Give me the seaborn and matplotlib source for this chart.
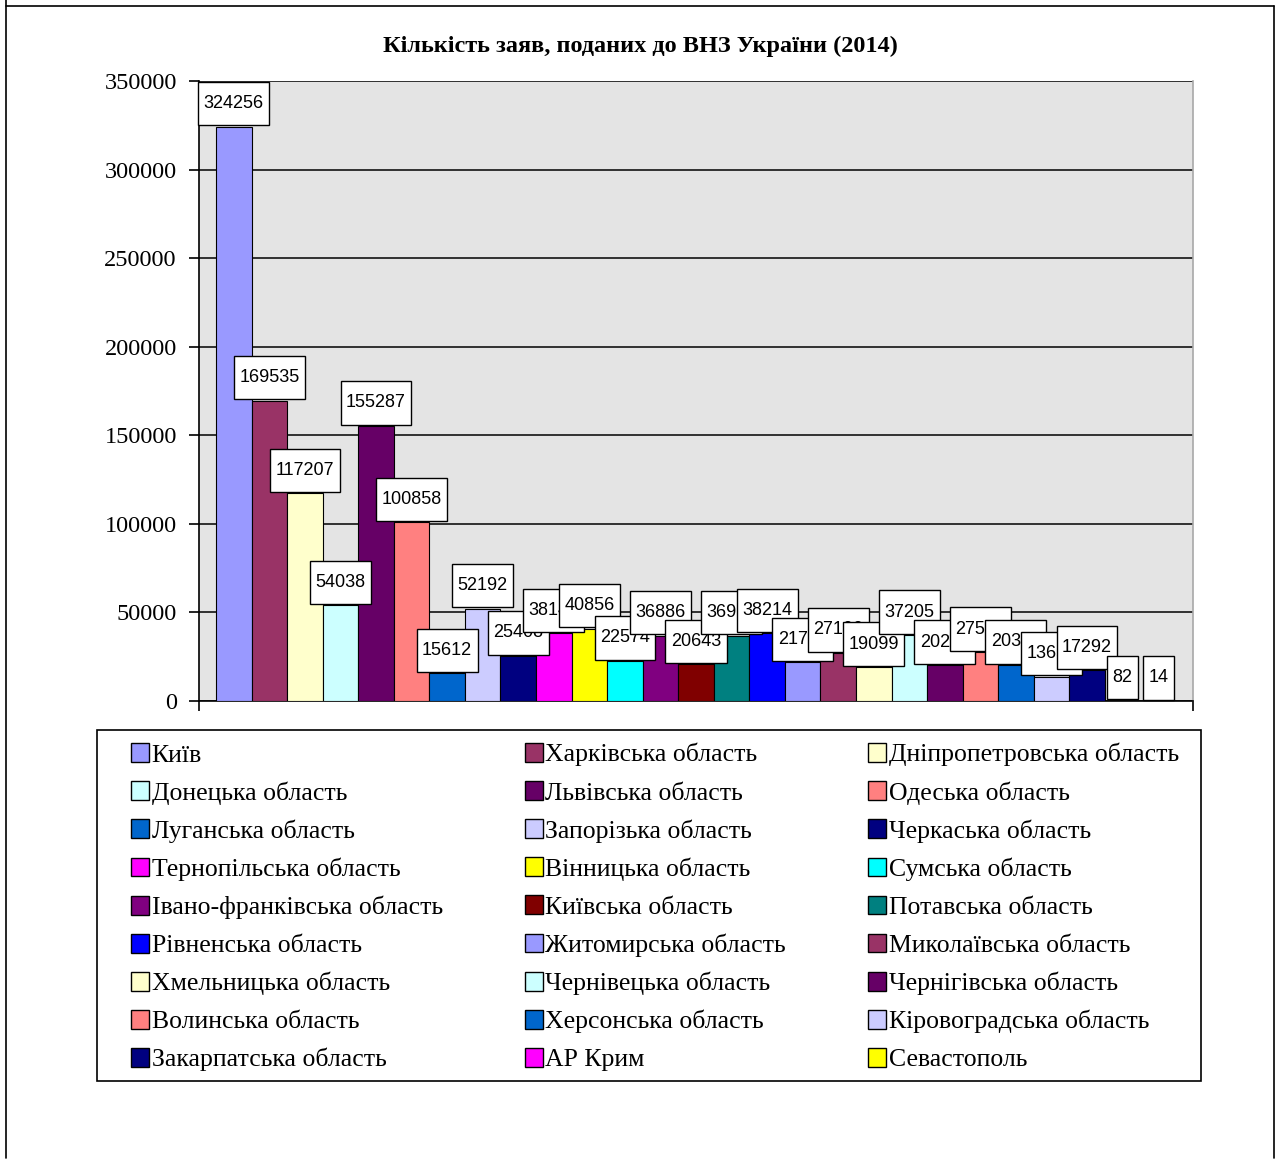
import matplotlib
matplotlib.use("Agg")
import matplotlib.pyplot as plt
from matplotlib.patches import Patch, Rectangle
from matplotlib.lines import Line2D
from matplotlib.path import Path
import seaborn as sns
import pandas as pd

# ----------------- data -----------------
regions = [
    "Київ", "Харківська область", "Дніпропетровська область",
    "Донецька область", "Львівська область", "Одеська область",
    "Луганська область", "Запорізька область", "Черкаська область",
    "Тернопільська область", "Вінницька область", "Сумська область",
    "Івано-франківська область", "Київська область", "Потавська область",
    "Рівненська область", "Житомирська область", "Миколаївська область",
    "Хмельницька область", "Чернівецька область", "Чернігівська область",
    "Волинська область", "Херсонська область", "Кіровоградська область",
    "Закарпатська область", "АР Крим", "Севастополь",
]
applications = [
    324256, 169535, 117207, 54038, 155287, 100858, 15612, 52192, 25408,
    38140, 40856, 22574, 36886, 20643, 36950, 38214, 21750, 27100,
    19099, 37205, 20250, 27550, 20350, 13650, 17292, 82, 14,
]
colors = [
    "#9999FF", "#993366", "#FFFFCC", "#CCFFFF", "#660066", "#FF8080",
    "#0066CC", "#CCCCFF", "#000080", "#FF00FF", "#FFFF00", "#00FFFF",
    "#800080", "#800000", "#008080", "#0000FF", "#9999FF", "#993366",
    "#FFFFCC", "#CCFFFF", "#660066", "#FF8080", "#0066CC", "#CCCCFF",
    "#000080", "#FF00FF", "#FFFF00",
]
yticks = [0, 50000, 100000, 150000, 200000, 250000, 300000, 350000]
title = "Кількість заяв, поданих до ВНЗ України (2014)"

df = pd.DataFrame({"region": regions, "n": applications})

# label boxes are tall and narrow: separate x / y padding
PADX, PADY = 0.3, 0.73


def label_box(x0, y0, width, height, mutation_size):
    px, py = PADX * mutation_size, PADY * mutation_size
    x0, y0 = x0 - px, y0 - py
    x1, y1 = x0 + width + 2 * px, y0 + height + 2 * py
    return Path([(x0, y0), (x1, y0), (x1, y1), (x0, y1), (x0, y0)], closed=True)


# ----------------- figure -----------------
sns.set_style("white")
plt.rcParams["font.family"] = ["Liberation Serif", "DejaVu Serif"]
plt.rcParams["text.color"] = "black"
plt.rcParams["ytick.color"] = "black"
plt.rcParams["xtick.color"] = "black"

W, H = 1279, 1164
fig = plt.figure(figsize=(W / 100, H / 100), dpi=100)
ax = fig.add_axes([199 / W, 1 - 701 / H, (1193 - 199) / W, (701 - 81) / H])
ax.set_facecolor("#E4E4E4")

sns.barplot(data=df, x="region", y="n", hue="region", palette=colors,
            order=regions, hue_order=regions, width=1.0, dodge=False,
            saturation=1, legend=False, edgecolor="black", linewidth=0.8,
            ax=ax, zorder=3)

ax.set_ylim(0, 350000)
ax.set_xlim(-0.98, len(regions) - 0.02)
ax.set_yticks(yticks)
ax.set_yticklabels([str(t) for t in yticks], fontsize=17.5)
ax.set_xticks(list(ax.get_xlim()))
ax.set_xticklabels(["", ""])
ax.tick_params(axis="y", direction="out", length=7, width=1.2, pad=9, left=True)
ax.tick_params(axis="x", direction="out", length=7, width=1.2, bottom=True)
ax.set_xlabel("")
ax.set_ylabel("")
ax.yaxis.grid(True, color="black", linewidth=1.1, zorder=1)
ax.set_axisbelow(True)
for side in ["left", "bottom"]:
    ax.spines[side].set_color("black")
    ax.spines[side].set_linewidth(1.2)
ax.spines["top"].set_visible(False)
ax.spines["right"].set_color("#A8A8A8")
ax.spines["right"].set_linewidth(1.2)

# data labels, later ones drawn on top
lab_size = 13
for i, v in enumerate(applications):
    ax.annotate(str(v), xy=(i, v), xytext=(0, PADY * lab_size + 1),
                textcoords="offset points", ha="center", va="bottom",
                fontsize=lab_size, family=["Liberation Sans", "DejaVu Sans"],
                bbox=dict(boxstyle=label_box, fc="white", ec="black", lw=1),
                zorder=10 + i, annotation_clip=False)

fig.text(640 / W, 1 - 46 / H, title, ha="center", va="center",
         fontsize=17.5, fontweight="bold")

# legend: filled row by row in the reference, matplotlib fills by column
handles = [Patch(facecolor=c, edgecolor="black", linewidth=1) for c in colors]
ncol = 3
order = [r * ncol + c for c in range(ncol) for r in range(len(regions) // ncol)]
leg = fig.legend([handles[k] for k in order], [regions[k] for k in order],
                 loc="upper left", bbox_to_anchor=(131 / W, 1 - 743 / H),
                 ncol=ncol, fontsize=18.5, frameon=False, borderpad=0,
                 handlelength=0.7, handleheight=0.75, handletextpad=0.1,
                 columnspacing=3.2, labelspacing=0.57, borderaxespad=0)
fig.add_artist(Rectangle((97 / W, 1 - 1081 / H), (1201 - 97) / W, (1081 - 730) / H,
                         transform=fig.transFigure, fill=False,
                         edgecolor="black", linewidth=1.2))

# outer frame of the picture
for xs, ys in [((6, 6), (0, 1158)), ((6, 1274), (6, 6)), ((1274, 1274), (6, 1158))]:
    fig.add_artist(Line2D([x / W for x in xs], [1 - y / H for y in ys],
                          color="black", linewidth=1.2, transform=fig.transFigure))

fig.savefig("out.png", dpi=100)
